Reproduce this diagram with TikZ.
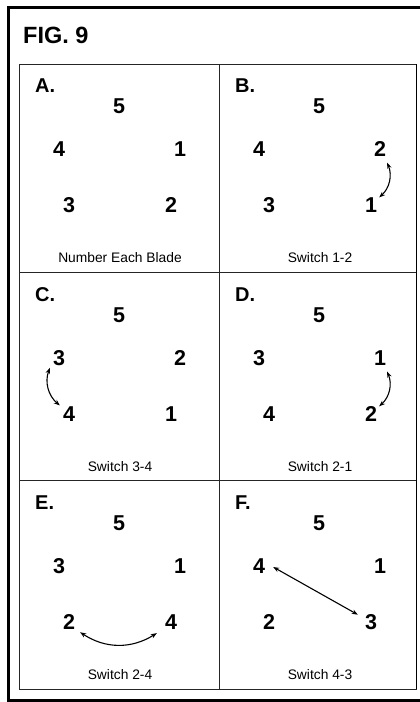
\documentclass[tikz,border=0pt]{standalone}
\usepackage{fontspec}
\setmainfont{Liberation Sans}
\usetikzlibrary{arrows.meta}
\newcommand\bladepanel[8]{%
  \node[plabel] (#1lab) at (16,29) {#2};
  \node[digit] (#1top) at (100,43) {#3};
  \node[digit] (#1ul) at (40,86) {#4};
  \node[digit] (#1ur) at (161,86) {#5};
  \node[digit] (#1ll) at (50,142) {#6};
  \node[digit] (#1lr) at (152,142) {#7};
  \node[caption] (#1cap) at (101,199) {#8};
}
\begin{document}
\begin{tikzpicture}[x=1pt,y=-1pt,
  digit/.style={font=\fontsize{21.5}{21.5}\selectfont\bfseries, inner sep=0pt, anchor=center},
  plabel/.style={font=\fontsize{20}{20}\selectfont\bfseries, inner sep=0pt, anchor=base west},
  caption/.style={font=\fontsize{13.8}{14}\selectfont, inner sep=0pt, anchor=base},
  swap/.style={{Stealth[length=6pt,width=4.5pt]}-{Stealth[length=6pt,width=4.5pt]}, line width=1.1pt},
  gridline/.style={line width=1pt, draw=black!85}]
\useasboundingbox (0,0) rectangle (420,702);
\fill[white] (0,0) rectangle (420,702);
\draw[line width=2.6pt] (421,7.5) -- (8.5,7.5) -- (8.5,700.5) -- (421,700.5);
\node[font=\fontsize{23.5}{23.5}\selectfont\bfseries, inner sep=0pt, anchor=base west] (title) at (23,43) {FIG. 9};
\draw[gridline] (19.5,64) rectangle (416.5,689);
\draw[gridline] (219,64) -- (219,689);
\draw[gridline] (19.5,272) -- (416.5,272);
\draw[gridline] (19.5,480) -- (416.5,480);
\draw[line width=1.8pt] (416.5,64) -- (416.5,689);
\begin{scope}[shift={(19,63)}]
  \bladepanel{a}{A.}{5}{4}{1}{3}{2}{Number Each Blade}
\end{scope}
\begin{scope}[shift={(219,63)}]
  \bladepanel{b}{B.}{5}{4}{2}{3}{1}{Switch 1-2}
  \draw[swap] ([shift={(1,6)}]bur.south east) to[bend left=35] ([shift={(2,0)}]blr.north east);
\end{scope}
\begin{scope}[shift={(19,272)}]
  \bladepanel{c}{C.}{5}{3}{2}{4}{1}{Switch 3-4}
  \draw[swap] ([shift={(-3,2)}]cul.south west) to[bend right=35] ([shift={(-3,-1)}]cll.north west);
\end{scope}
\begin{scope}[shift={(219,272)}]
  \bladepanel{d}{D.}{5}{3}{1}{4}{2}{Switch 2-1}
  \draw[swap] ([shift={(1,6)}]dur.south east) to[bend left=35] ([shift={(2,0)}]dlr.north east);
\end{scope}
\begin{scope}[shift={(19,480)}]
  \bladepanel{e}{E.}{5}{3}{1}{2}{4}{Switch 2-4}
  \draw[swap] ([shift={(5,2.5)}]ell.south east) to[bend right=33] ([shift={(-8,3.5)}]elr.south west);
\end{scope}
\begin{scope}[shift={(219,480)}]
  \bladepanel{f}{F.}{5}{4}{1}{2}{3}{Switch 4-3}
  \draw[swap] ([shift={(8,1)}]ful.east) -- ([shift={(-7,0.5)}]flr.north west);
\end{scope}
\end{tikzpicture}
\end{document}
